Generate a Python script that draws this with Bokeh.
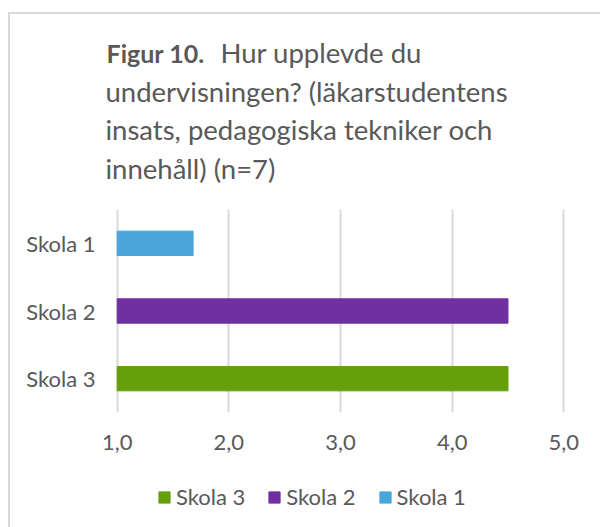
from bokeh.plotting import figure
from bokeh.layouts import column
from bokeh.models import (FactorRange, Range1d, FixedTicker, Label, Legend,
                          LegendItem, ColumnDataSource)
from bokeh.embed import file_html
from bokeh.resources import INLINE

# ---- data ----
schools = ["Skola 1", "Skola 2", "Skola 3"]
scores = [1.68, 4.5, 4.5]
colors = ["#4BA5DA", "#7030A0", "#669F0C"]
x_ticks = [1, 2, 3, 4, 5]
x_tick_labels = ["1,0", "2,0", "3,0", "4,0", "5,0"]
axis_start = 1
title_bold = "Figur 10."
title_lines = ["Hur upplevde du",
               "undervisningen? (läkarstudentens",
               "insats, pedagogiska tekniker och",
               "innehåll) (n=7)"]
legend_order = ["Skola 3", "Skola 2", "Skola 1"]

FONT = "Lato"
TXT = "#595959"
GRID = "#D9D9D9"


def no_align(fig):
    if hasattr(fig, "frame_align"):
        fig.frame_align = False


def bare(fig):
    fig.grid.visible = False
    fig.outline_line_color = None
    for side in ("left", "right", "top", "bottom"):
        setattr(fig, "min_border_" + side, 0)
    no_align(fig)


src = ColumnDataSource(dict(school=schools, score=scores,
                            base=[axis_start] * len(schools), color=colors))

# ---- title block ----
tf = figure(width=590, height=180, x_range=Range1d(0, 1), y_range=Range1d(0, 1),
            output_backend="svg", toolbar_location=None,
            x_axis_location=None, y_axis_location=None)
bare(tf)
base_y = [142, 103.5, 65, 26.5]
tf.add_layout(Label(x=96, y=base_y[0], x_units="screen", y_units="screen",
                    text=title_bold, text_font=FONT, text_font_style="bold",
                    text_font_size="25px", text_color=TXT,
                    text_baseline="alphabetic"))
for i, line in enumerate(title_lines):
    tf.add_layout(Label(x=210 if i == 0 else 95, y=base_y[i],
                        x_units="screen", y_units="screen",
                        text=line, text_font=FONT, text_font_size="27.5px",
                        text_color=TXT, text_baseline="alphabetic"))

# ---- chart ----
p = figure(width=590, height=268,
           y_range=FactorRange(factors=schools[::-1]),
           x_range=Range1d(x_ticks[0] - 0.015, x_ticks[-1] + 0.015),
           output_backend="svg", toolbar_location=None,
           min_border_left=105, min_border_right=35,
           min_border_top=15, min_border_bottom=50)
no_align(p)

r = p.hbar(y="school", left="base", right="score", height=0.36,
           color="color", source=src)

p.outline_line_color = None
p.ygrid.visible = False
p.xgrid.grid_line_color = GRID
p.xgrid.grid_line_width = 2

p.xaxis.ticker = FixedTicker(ticks=x_ticks)
p.xaxis.major_label_overrides = dict(zip(x_ticks, x_tick_labels))
for ax in (p.xaxis, p.yaxis):
    ax.axis_line_color = None
    ax.major_tick_line_color = None
    ax.minor_tick_line_color = None
    ax.major_tick_out = 0
    ax.major_tick_in = 0
    ax.major_label_text_font = FONT
    ax.major_label_text_font_size = "22px"
    ax.major_label_text_color = TXT
p.xaxis.major_label_standoff = 22
p.yaxis.major_label_standoff = 20

# ---- legend block (swatches taken from the same source; bars kept out of view) ----
lf = figure(width=590, height=65, x_range=Range1d(-10, -9),
            y_range=FactorRange(factors=schools),
            output_backend="svg", toolbar_location=None,
            x_axis_location=None, y_axis_location=None)
bare(lf)
lr = lf.hbar(y="school", left="base", right="score", height=0.36,
             color="color", source=src)
items = [LegendItem(label=s, renderers=[lr], index=schools.index(s))
         for s in legend_order]
legend = Legend(items=items, orientation="horizontal", location=(147, 17),
                glyph_width=14, glyph_height=14, label_text_font=FONT,
                label_text_font_size="22px", label_text_color=TXT,
                spacing=22, label_standoff=5, padding=0, margin=0,
                border_line_color=None, background_fill_alpha=0)
lf.add_layout(legend, "center")

layout = column(tf, p, lf, spacing=0)
layout.styles = {"margin-left": "8px", "margin-top": "12px",
                 "border-top": "2px solid " + GRID,
                 "border-left": "2px solid " + GRID}

open("out.html", "w").write(file_html(layout, INLINE))
